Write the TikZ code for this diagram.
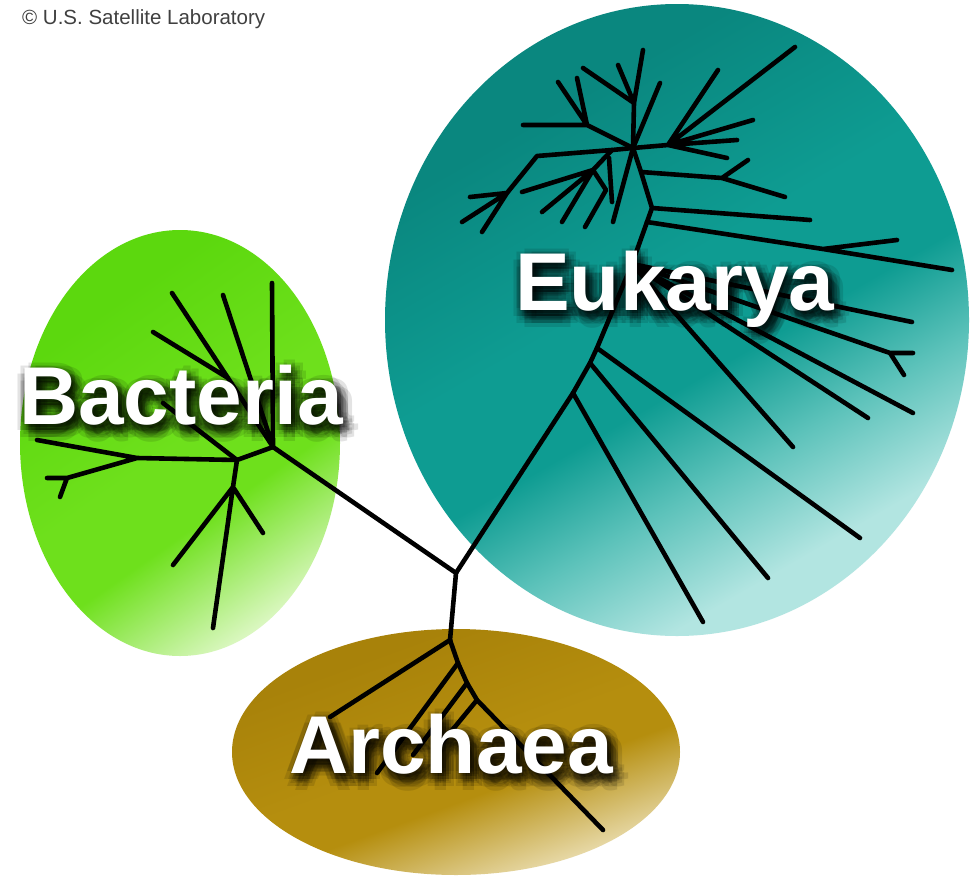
\documentclass[tikz,border=0pt]{standalone}
\usepackage{fontspec}
\setmainfont{Liberation Sans}
\usepackage{xcolor}
\usepackage{tikz}

% Domain colours
\definecolor{eukdark}{HTML}{0A877F}
\definecolor{eukmain}{HTML}{0E9C92}
\definecolor{eukmid}{HTML}{5CC2BA}
\definecolor{euklight}{HTML}{B2E5E1}
\definecolor{bacdark}{HTML}{5CD80E}
\definecolor{bacmain}{HTML}{6EE01C}
\definecolor{baclight}{HTML}{DDF8C4}
\definecolor{arcdark}{HTML}{A8820A}
\definecolor{arcmain}{HTML}{B58E0E}
\definecolor{arclight}{HTML}{F0E6C2}

\pgfdeclarehorizontalshading{eukshade}{100bp}{color(0bp)=(eukdark); color(30bp)=(eukdark); color(46bp)=(eukmain); color(55bp)=(eukmain); color(63bp)=(eukmid); color(72bp)=(euklight); color(100bp)=(euklight)}
\pgfdeclarehorizontalshading{bacshade}{100bp}{color(0bp)=(bacdark); color(30bp)=(bacdark); color(50bp)=(bacmain); color(60bp)=(bacmain); color(76bp)=(baclight); color(100bp)=(baclight)}
\pgfdeclarehorizontalshading{arcshade}{100bp}{color(0bp)=(arcdark); color(30bp)=(arcdark); color(50bp)=(arcmain); color(58bp)=(arcmain); color(76bp)=(arclight); color(100bp)=(arclight)}

% White name with a soft black glow
\newcommand{\glowname}[3]{%
  \foreach \r in {3,7,11}{
    \foreach \a in {0,45,...,315}{
      \node[nameshadow, xshift={4+\r*cos(\a)}, yshift={-6+\r*sin(\a)}] (#1-\r-\a) at (#2) {#3};
    }
  }
  \node[nametext] (#1) at (#2) {#3};
}

\begin{document}
\begin{tikzpicture}[x=1pt, y=-1pt,
    branch/.style={line width=4.6pt, line cap=round, line join=round, black},
    namefont/.style={font=\fontsize{82}{82}\selectfont\bfseries, inner sep=0pt, anchor=base west},
    nametext/.style={namefont, text=white},
    nameshadow/.style={namefont, text=black, opacity=0.11},
    credit/.style={font=\fontsize{20.5}{20.5}\selectfont, text=black!75, inner sep=0pt, anchor=base west}]

    \useasboundingbox (0,0) rectangle (971,878);
    \fill[white] (0,0) rectangle (971,878);

    % Domain blobs
    \shade[shading=eukshade, shading angle=-60] (677,320) ellipse [x radius=292, y radius=316];
    \shade[shading=bacshade, shading angle=-55] (180,443) ellipse [x radius=160, y radius=213];
    \shade[shading=arcshade, shading angle=-70] (456,752) ellipse [x radius=224, y radius=123];

    % Stem
    \coordinate (root) at (456,573);
    \coordinate (bac) at (273,447);
    \coordinate (arc) at (450,640);
    \coordinate (euk) at (573,393);

    % Eukarya trunk
    \coordinate (e1) at (590,363);
    \coordinate (e2) at (597,348);
    \coordinate (e3) at (632,264);
    \coordinate (e5) at (647,222);
    \coordinate (e4) at (652,208);
    \coordinate (e6) at (641,172);
    \coordinate (hub) at (633,148);

    % Eukarya forks
    \coordinate (ef1) at (890,353);
    \coordinate (ef2) at (823,249);
    \coordinate (ef3) at (722,178);
    \coordinate (ef4) at (668,145);
    \coordinate (ef5) at (634,103);
    \coordinate (ef6) at (587,125);
    \coordinate (ef7) at (537,156);
    \coordinate (ef8) at (507,193);
    \coordinate (ef9) at (612,150);
    \coordinate (ef10) at (593,170);
    \coordinate (ef11) at (606,190);
    \coordinate (es1) at (609,158);
    \coordinate (es2) at (612,202);

    % Eukarya tips
    \coordinate (eL1) at (703,622);
    \coordinate (eL2) at (768,578);
    \coordinate (eL3) at (860,538);
    \coordinate (eL4) at (793,447);
    \coordinate (eL5) at (868,418);
    \coordinate (eL6) at (913,413);
    \coordinate (eL7) at (913,353);
    \coordinate (eL8) at (904,375);
    \coordinate (eL9) at (912,322);
    \coordinate (eL10) at (810,220);
    \coordinate (eL11) at (952,270);
    \coordinate (eL12) at (897,240);
    \coordinate (eL13) at (785,197);
    \coordinate (eL14) at (748,160);
    \coordinate (eL15) at (795,47);
    \coordinate (eL16) at (718,70);
    \coordinate (eL17) at (753,120);
    \coordinate (eL18) at (737,140);
    \coordinate (eL19) at (727,158);
    \coordinate (eL20) at (660,83);
    \coordinate (eL21) at (643,50);
    \coordinate (eL22) at (618,65);
    \coordinate (eL23) at (583,68);
    \coordinate (eL24) at (523,125);
    \coordinate (eL25) at (558,82);
    \coordinate (eL26) at (577,78);
    \coordinate (eL27) at (482,232);
    \coordinate (eL28) at (470,197);
    \coordinate (eL29) at (462,222);
    \coordinate (eL30) at (522,192);
    \coordinate (eL31) at (542,212);
    \coordinate (eL32) at (562,222);
    \coordinate (eL33) at (585,227);
    \coordinate (eL34) at (613,222);

    % Bacteria
    \coordinate (bf1) at (228,378);
    \coordinate (bf2) at (237,460);
    \coordinate (bf3) at (137,458);
    \coordinate (bf4) at (67,478);
    \coordinate (bf5) at (233,487);
    \coordinate (bL1) at (272,283);
    \coordinate (bL2) at (223,295);
    \coordinate (bL3) at (172,293);
    \coordinate (bL4) at (153,332);
    \coordinate (bL5) at (37,440);
    \coordinate (bL6) at (47,478);
    \coordinate (bL7) at (60,497);
    \coordinate (bL8) at (163,403);
    \coordinate (bL9) at (213,628);
    \coordinate (bL10) at (173,565);
    \coordinate (bL11) at (263,533);

    % Archaea
    \coordinate (af1) at (458,663);
    \coordinate (af2) at (467,683);
    \coordinate (af3) at (477,700);
    \coordinate (aL1) at (330,717);
    \coordinate (aL2) at (603,830);
    \coordinate (aL3) at (377,773);
    \coordinate (aL4) at (413,755);
    \coordinate (aL5) at (440,745);

    % Stem branches
    \draw[branch] (bac) -- (root) -- (euk);
    \draw[branch] (root) -- (arc);

    % Eukarya branches
    \draw[branch] (euk) -- (e1) -- (e2) -- (e3) -- (e5) -- (e4) -- (e6) -- (hub);
    \draw[branch] (euk) -- (eL1) (e1) -- (eL2) (e2) -- (eL3);
    \draw[branch] (e3) -- (eL4) (e3) -- (eL5) (e3) -- (eL6) (e3) -- (eL9);
    \draw[branch] (e3) -- (ef1) -- (eL7) (ef1) -- (eL8);
    \draw[branch] (e4) -- (eL10);
    \draw[branch] (e5) -- (ef2) -- (eL11) (ef2) -- (eL12);
    \draw[branch] (e6) -- (ef3) -- (eL13) (ef3) -- (eL14);
    \draw[branch] (hub) -- (ef4) -- (eL15) (ef4) -- (eL16) (ef4) -- (eL17) (ef4) -- (eL18) (ef4) -- (eL19);
    \draw[branch] (hub) -- (eL20);
    \draw[branch] (hub) -- (ef5) -- (eL21) (ef5) -- (eL22) (ef5) -- (eL23);
    \draw[branch] (hub) -- (ef6) -- (eL24) (ef6) -- (eL25) (ef6) -- (eL26);
    \draw[branch] (hub) -- (ef9) -- (ef7) -- (ef8) -- (eL27) (ef8) -- (eL28) (ef8) -- (eL29);
    \draw[branch] (ef9) -- (ef10) -- (eL30) (ef10) -- (eL31) (ef10) -- (eL32) (ef10) -- (ef11) -- (eL33);
    \draw[branch] (es1) -- (es2);
    \draw[branch] (hub) -- (eL34);

    % Bacteria branches
    \draw[branch] (bac) -- (bL1) (bac) -- (bL2);
    \draw[branch] (bac) -- (bf1) -- (bL3) (bf1) -- (bL4);
    \draw[branch] (bac) -- (bf2) -- (bf3) -- (bL5) (bf3) -- (bf4) -- (bL6) (bf4) -- (bL7);
    \draw[branch] (bf2) -- (bL8);
    \draw[branch] (bf2) -- (bf5) -- (bL9) (bf5) -- (bL10) (bf5) -- (bL11);

    % Archaea branches
    \draw[branch] (arc) -- (aL1);
    \draw[branch] (arc) -- (af1) -- (af2) -- (af3) -- (aL2);
    \draw[branch] (af1) -- (aL3) (af2) -- (aL4) (af3) -- (aL5);

    % Names
    \glowname{eukname}{515,310}{Eukarya}
    \glowname{bacname}{19,424}{Bacteria}
    \glowname{arcname}{289,773}{Archaea}

    % Credit line
    \node[credit] (creditline) at (22,24) {© U.S. Satellite Laboratory};

\end{tikzpicture}
\end{document}
